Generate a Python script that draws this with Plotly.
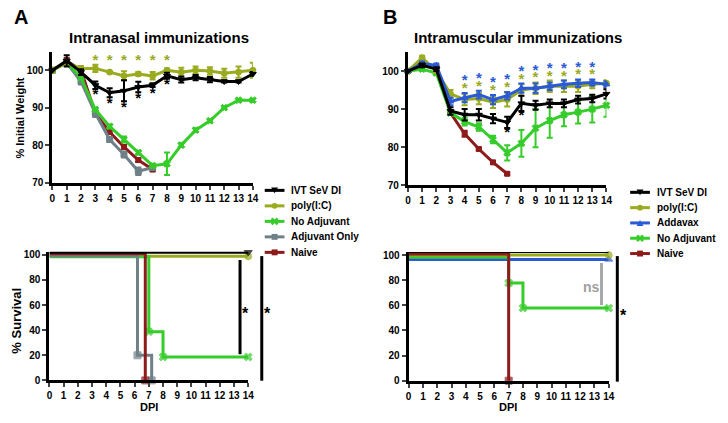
import plotly.graph_objects as go

W, H = 728, 423

days = list(range(15))
days7 = list(range(8))

# ---- Panel A: intranasal weight ----
a_ivt = [100, 102.5, 99.5, 96, 94, 94.5, 95.5, 96, 98.5, 97.5, 98, 97.5, 97, 97, 99]
a_ivt_err = [0, 1.5, 0.8, 1.0, 1.2, 2.8, 1.4, 0.5, 0.8, 0.8, 0.7, 0.7, 0.3, 0.3, 0.5]
a_poly = [100, 102, 100.5, 100.5, 99.5, 98.5, 99, 98.5, 100, 99.5, 100, 99.8, 99.2, 99.5, 100]
a_poly_err = [0, 0.5, 0.5, 1.0, 0.3, 1.2, 0.5, 1.0, 0.5, 1.2, 1.0, 1.0, 1.2, 1.5, 2.0]
a_noadj = [100, 102, 98, 89.5, 85, 81.5, 78, 74.5, 75, 80, 84, 86.5, 90, 92, 92]
a_noadj_err = [0, 0.5, 0.5, 0.5, 0.5, 0.8, 0.5, 0.5, 3.0, 0.5, 0.5, 0.3, 0.3, 0.3, 0.3]
a_adjonly = [100, 102, 97, 88.5, 81.5, 77.5, 73, 74]
a_adjonly_err = [0, 0.5, 0.8, 1.0, 0.5, 0.8, 1.0, 0.5]
a_naive = [100, 102.5, 100, 88.5, 83.5, 79.5, 76, 73.5]
a_naive_err = [0, 0.8, 1.0, 0.5, 0.5, 0.5, 0.5, 0.5]
a_poly_sig_days = [3, 4, 5, 6, 7, 8]
a_ivt_sig_days = [3, 4, 5, 6, 7, 8]

# ---- Panel B: intramuscular weight ----
b_ivt = [100, 101.5, 100.5, 89.5, 88.5, 88.5, 87.5, 86.5, 91.5, 91, 91.5, 91.5, 92.5, 92.8, 94]
b_ivt_err = [0, 0.5, 0.5, 1.0, 1.5, 1.5, 1.2, 1.5, 2.0, 1.2, 1.0, 1.0, 1.0, 1.0, 1.2]
b_poly = [100, 103.5, 100, 94, 92.5, 92.8, 91.8, 92.5, 95, 95.5, 96, 96, 96, 96.5, 96.8]
b_poly_err = [0, 0.5, 0.5, 1.0, 1.5, 1.5, 1.5, 1.8, 1.5, 1.5, 1.5, 1.5, 1.5, 1.0, 0.8]
b_addavax = [100, 102, 101.5, 92, 93, 93.8, 92.5, 93.5, 95.5, 95.5, 96, 96.5, 96.8, 97, 96.5]
b_addavax_err = [0, 0.5, 0.5, 1.0, 1.2, 1.0, 1.2, 1.0, 1.2, 1.2, 1.0, 1.0, 1.0, 0.8, 0.8]
b_noadj = [100, 100.5, 99.5, 89, 86.7, 85.3, 82, 78.5, 81, 85, 87, 88.5, 89.2, 90, 91]
b_noadj_err = [0, 0.5, 0.5, 0.5, 1.0, 1.0, 1.0, 2.0, 3.5, 5.0, 4.5, 3.0, 3.0, 3.5, 3.0]
b_naive = [100, 102.5, 101, 89, 83.5, 79.5, 76, 73]
b_naive_err = [0, 0.5, 0.5, 0.3, 0.8, 0.3, 0.3, 0.3]
b_sig_days = [4, 5, 6, 7, 8, 9, 10, 11, 12, 13]
b_ivt_sig_days = [7, 8]

# ---- Survival A ----
sa_ivt_x, sa_ivt_y = [0, 14], [102, 102]
sa_poly_x, sa_poly_y = [0, 14], [98.8, 98.8]
sa_noadj_x, sa_noadj_y = [0, 7, 8, 14], [98.5, 38.8, 18.7, 18.7]
sa_adjonly_x, sa_adjonly_y = [0, 6.2, 7.2], [99.3, 20, 0]
sa_naive_x, sa_naive_y = [0, 6.75], [100.8, 0]

# ---- Survival B ----
sb_ivt_x, sb_ivt_y = [0, 14], [102.8, 102.8]
sb_poly_x, sb_poly_y = [0, 14], [100, 100]
sb_addavax_x, sb_addavax_y = [0, 14], [96.6, 96.6]
sb_noadj_x, sb_noadj_y = [0, 7, 8, 14], [98.3, 77.8, 57.8, 57.8]
sb_naive_x, sb_naive_y = [0, 7], [100.8, 0]

# ---- Legends ----
legend_a = ["IVT SeV DI", "poly(I:C)", "No Adjuvant", "Adjuvant Only", "Naive"]
legend_b = ["IVT SeV DI", "poly(I:C)", "Addavax", "No Adjuvant", "Naive"]

BLACK = "#000000"
OLIVE = "#9BAB1F"
GREEN = "#36CC2A"
GRAY = "#6F8088"
RED = "#8E1B1B"
BLUE = "#2A5AD6"

STYLE = {
    "IVT SeV DI": (BLACK, "triangle-down"),
    "poly(I:C)": (OLIVE, "circle"),
    "No Adjuvant": (GREEN, "x"),
    "Adjuvant Only": (GRAY, "square"),
    "Naive": (RED, "square"),
    "Addavax": (BLUE, "triangle-up"),
}

FONT = "Liberation Sans, Arial, sans-serif"


def px_x(p):
    return p / W


def px_y(p):
    return 1 - p / H


fig = go.Figure()


def weight_trace(x, y, err, name, xa, ya, msize=6):
    color, symbol = STYLE[name]
    fig.add_trace(go.Scatter(
        x=x, y=y, name=name, mode="lines+markers",
        line=dict(color=color, width=3),
        marker=dict(color=color, symbol=symbol, size=msize, line=dict(width=1, color=color)),
        error_y=dict(type="data", array=err, thickness=2, width=3, color=color),
        xaxis=xa, yaxis=ya, showlegend=False, cliponaxis=False,
    ))


def surv_trace(x, y, name, xa, ya, marker_from=1):
    color, symbol = STYLE[name]
    sizes = [0 if i < marker_from else 7 for i in range(len(x))]
    fig.add_trace(go.Scatter(
        x=x, y=y, name=name, mode="lines+markers", line=dict(color=color, width=3, shape="hv"),
        marker=dict(color=color, symbol=symbol, size=sizes, line=dict(width=1, color=color)),
        xaxis=xa, yaxis=ya, showlegend=False, cliponaxis=False,
    ))


def stars(x, y, color, xa, ya, size=15):
    fig.add_trace(go.Scatter(
        x=x, y=y, mode="text", text=["*"] * len(x),
        textfont=dict(color=color, size=size, family=FONT, weight="bold"),
        textposition="middle center", xaxis=xa, yaxis=ya,
        showlegend=False, cliponaxis=False, hoverinfo="skip",
    ))


# Panel A weight
weight_trace(days7, a_naive, a_naive_err, "Naive", "x", "y", 5)
weight_trace(days7, a_adjonly, a_adjonly_err, "Adjuvant Only", "x", "y")
weight_trace(days, a_noadj, a_noadj_err, "No Adjuvant", "x", "y")
weight_trace(days, a_poly, a_poly_err, "poly(I:C)", "x", "y")
weight_trace(days, a_ivt, a_ivt_err, "IVT SeV DI", "x", "y")
stars(a_poly_sig_days, [102.4] * len(a_poly_sig_days), OLIVE, "x", "y")
stars(a_ivt_sig_days, [a_ivt[d] - a_ivt_err[d] - 1.8 for d in a_ivt_sig_days], BLACK, "x", "y")

# Panel B weight
weight_trace(days7, b_naive, b_naive_err, "Naive", "x2", "y2", 5)
weight_trace(days, b_noadj, b_noadj_err, "No Adjuvant", "x2", "y2")
weight_trace(days, b_poly, b_poly_err, "poly(I:C)", "x2", "y2")
weight_trace(days, b_addavax, b_addavax_err, "Addavax", "x2", "y2")
weight_trace(days, b_ivt, b_ivt_err, "IVT SeV DI", "x2", "y2")
base = [max(b_poly[d] + b_poly_err[d], b_addavax[d] + b_addavax_err[d]) for d in b_sig_days]
stars(b_sig_days, [b + 1.0 for b in base], OLIVE, "x2", "y2")
stars(b_sig_days, [b + 3.0 for b in base], BLUE, "x2", "y2")
stars(b_ivt_sig_days, [b_ivt[d] - b_ivt_err[d] - 1.3 for d in b_ivt_sig_days], BLACK, "x2", "y2")

# Survival A
surv_trace(sa_poly_x, sa_poly_y, "poly(I:C)", "x3", "y3")
surv_trace(sa_noadj_x, sa_noadj_y, "No Adjuvant", "x3", "y3")
surv_trace(sa_adjonly_x, sa_adjonly_y, "Adjuvant Only", "x3", "y3")
surv_trace(sa_naive_x, sa_naive_y, "Naive", "x3", "y3")
surv_trace(sa_ivt_x, sa_ivt_y, "IVT SeV DI", "x3", "y3")

# Survival B
surv_trace(sb_addavax_x, sb_addavax_y, "Addavax", "x4", "y4")
surv_trace(sb_noadj_x, sb_noadj_y, "No Adjuvant", "x4", "y4")
surv_trace(sb_poly_x, sb_poly_y, "poly(I:C)", "x4", "y4")
surv_trace(sb_naive_x, sb_naive_y, "Naive", "x4", "y4")
surv_trace(sb_ivt_x, sb_ivt_y, "IVT SeV DI", "x4", "y4")

tickfont = dict(family=FONT, size=10, color="black", weight="bold")


def xaxis(dom, anchor):
    return dict(domain=[px_x(dom[0]), px_x(dom[1])], range=[0, 14], tickvals=days,
                showline=True, linewidth=3, linecolor="black", ticks="outside",
                ticklen=4, tickwidth=2, showgrid=False, zeroline=False,
                tickfont=tickfont, anchor=anchor, fixedrange=True)


def yaxis(dom, rng, tv, anchor):
    return dict(domain=[px_y(dom[1]), px_y(dom[0])], range=rng, tickvals=tv,
                showline=True, linewidth=3, linecolor="black", ticks="outside",
                ticklen=4, tickwidth=2, showgrid=False, zeroline=False,
                tickfont=tickfont, anchor=anchor, fixedrange=True)


fig.update_layout(
    width=W, height=H, margin=dict(l=0, r=0, t=0, b=0),
    paper_bgcolor="white", plot_bgcolor="white",
    font=dict(family=FONT, color="black"),
    showlegend=False,
    xaxis=xaxis((50, 253), "y"),
    yaxis=yaxis((50.5, 184), [70, 105], [70, 80, 90, 100], "x"),
    xaxis2=xaxis((410, 611), "y2"),
    yaxis2=yaxis((51, 186.7), [70, 105], [70, 80, 90, 100], "x2"),
    xaxis3=xaxis((47, 248.3), "y3"),
    yaxis3=yaxis((254.5, 385.7), [0, 102.5], [0, 20, 40, 60, 80, 100], "x3"),
    xaxis4=xaxis((410.7, 613.3), "y4"),
    yaxis4=yaxis((254.8, 386), [0, 102.5], [0, 20, 40, 60, 80, 100], "x4"),
)


def text(t, xp, yp, size, color="black", angle=0, anchor="center"):
    fig.add_annotation(text=t, x=px_x(xp), y=px_y(yp), xref="paper", yref="paper",
                       showarrow=False, xanchor=anchor, yanchor="middle", textangle=angle,
                       font=dict(family=FONT, size=size, color=color, weight="bold"))


# custom legends (shapes + text)
def add_legend(names, x_line0, y0, dy):
    for i, name in enumerate(names):
        color, symbol = STYLE[name]
        yc = y0 + i * dy
        xm = x_line0 + 10
        fig.add_shape(type="line", xref="paper", yref="paper",
                      x0=px_x(x_line0), x1=px_x(x_line0 + 20), y0=px_y(yc), y1=px_y(yc),
                      line=dict(color=color, width=3))
        r = 3
        if symbol == "circle":
            fig.add_shape(type="circle", xref="paper", yref="paper",
                          x0=px_x(xm - r), x1=px_x(xm + r), y0=px_y(yc + r), y1=px_y(yc - r),
                          fillcolor=color, line=dict(color=color, width=0))
        elif symbol == "square":
            fig.add_shape(type="rect", xref="paper", yref="paper",
                          x0=px_x(xm - r), x1=px_x(xm + r), y0=px_y(yc + r), y1=px_y(yc - r),
                          fillcolor=color, line=dict(color=color, width=0))
        elif symbol in ("triangle-down", "triangle-up"):
            s = 1 if symbol == "triangle-down" else -1
            p = (f"M {px_x(xm - 3.5)} {px_y(yc - s * 3)} L {px_x(xm + 3.5)} {px_y(yc - s * 3)} "
                 f"L {px_x(xm)} {px_y(yc + s * 3)} Z")
            fig.add_shape(type="path", xref="paper", yref="paper", path=p,
                          fillcolor=color, line=dict(color=color, width=0))
        elif symbol == "x":
            for sgn in (1, -1):
                fig.add_shape(type="line", xref="paper", yref="paper",
                              x0=px_x(xm - 3), x1=px_x(xm + 3),
                              y0=px_y(yc - sgn * 3), y1=px_y(yc + sgn * 3),
                              line=dict(color=color, width=2.5))
        text(name, x_line0 + 25, yc, 10, anchor="left")


add_legend(legend_a, 265, 192, 15.8)
add_legend(legend_b, 635, 194, 15.6)

text("A", 18, 15, 20)
text("B", 392, 15, 20)
text("Intranasal immunizations", 158, 36, 15)
text("Intramuscular immunizations", 521, 36, 15)
text("DPI", 148, 413, 11)
text("DPI", 511, 413, 11)
text("*", 246, 317, 16)
text("*", 268, 318, 16)
text("*", 628, 320, 16)
text("ns", 596, 290, 14, color="#A0A0A0")
text("% Initial Weight", 17, 118, 11, angle=-90)
text("% Survival", 14, 325, 13, angle=-90)

lines = [
    (240, 263, 359, "black"),
    (262, 259, 386, "black"),
    (606, 266, 309, "#A8A8A8"),
    (622, 259, 387, "black"),
]
for xp, y0, y1, c in lines:
    fig.add_shape(type="line", xref="paper", yref="paper", x0=px_x(xp), x1=px_x(xp),
                  y0=px_y(y0), y1=px_y(y1), line=dict(color=c, width=3))

fig.write_html("out.html", config={"displayModeBar": False},
               post_script="document.body.style.margin='0';document.body.style.overflow='hidden';")
